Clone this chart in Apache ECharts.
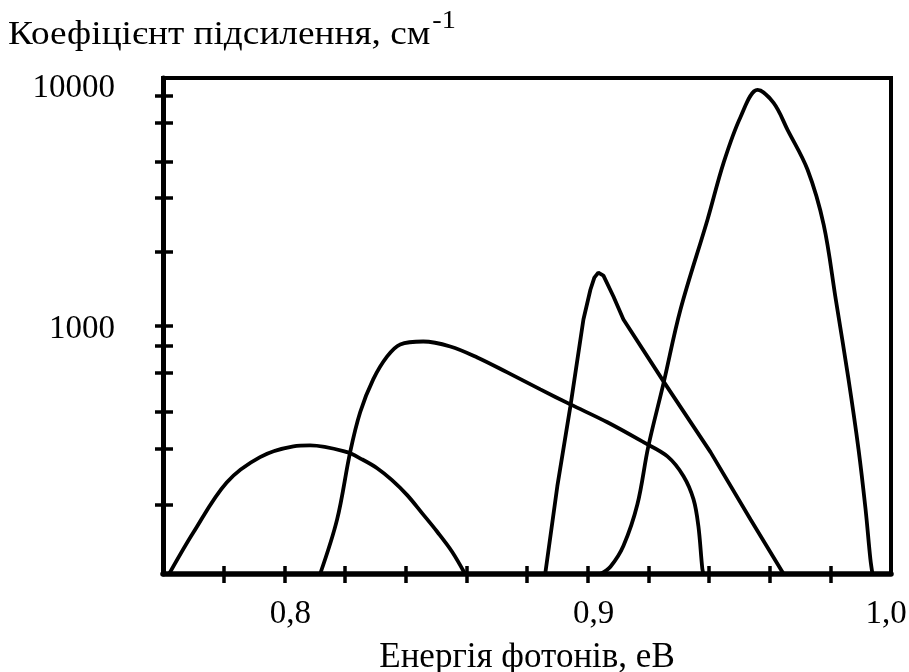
<!DOCTYPE html>
<html>
<head>
<meta charset="utf-8">
<script src="https://cdn.jsdelivr.net/npm/echarts@6/dist/echarts.min.js"></script>
<style>
  html, body { margin: 0; padding: 0; background: #fff; }
  #chart { width: 909px; height: 672px; }
</style>
</head>
<body>
<div id="chart"></div>
<script>
// Gain spectra: photon energy (eV) vs gain coefficient (cm^-1), log scale
const curve1X = [0.762, 0.770, 0.781, 0.792, 0.803, 0.8085, 0.8207, 0.8256, 0.8306, 0.8355, 0.8405, 0.8454, 0.8504, 0.8553, 0.8596];
const curve1Y = [100, 147, 234, 296, 327, 330, 310, 290, 267, 239, 208, 176, 148, 123, 100];

const curve2X = [0.8118, 0.8174, 0.8217, 0.825, 0.8293, 0.8339, 0.8382, 0.8458, 0.8547, 0.8636, 0.8735, 0.8844, 0.8943, 0.9065, 0.9184, 0.9263, 0.9316, 0.9349, 0.9365, 0.9378, 0.9382];
const curve2Y = [100, 166, 310, 449, 609, 754, 843, 866, 827, 747, 650, 555, 483, 409, 340, 298, 248, 200, 156, 105, 100];

const curve3X = [0.886, 0.890, 0.8943, 0.8986, 0.9009, 0.9022, 0.9035, 0.9052, 0.9085, 0.9118, 0.925, 0.9405, 0.9537, 0.9646];
const curve3Y = [100, 226, 474, 1062, 1400, 1567, 1641, 1597, 1315, 1062, 598, 310, 166, 100];

const curve4X = [0.9042, 0.9075, 0.9118, 0.9164, 0.920, 0.925, 0.9306, 0.9395, 0.9448, 0.9504, 0.956, 0.9613, 0.9659, 0.9725, 0.9778, 0.9818, 0.986, 0.9893, 0.9916, 0.9932, 0.9939];
const curve4Y = [100, 107, 130, 191, 327, 587, 1165, 2683, 4549, 6966, 8950, 7930, 6180, 4265, 2561, 1279, 609, 318, 183, 115, 100];

const xTickValues = [0.78, 0.80, 0.82, 0.84, 0.86, 0.88, 0.90, 0.92, 0.94, 0.96, 0.98];
const xLabelValues = [0.8, 0.9, 1.0];
const yTickValues = [190, 320, 450, 650, 830, 1000, 2000, 3300, 4600, 6600, 8500];
const yLabelValues = [1000, 10000];

const yTitle = 'Коефіцієнт підсилення, см';
const yTitleSup = '-1';
const xTitle = 'Енергія фотонів, еВ';

const FONT = '"Liberation Serif", "Times New Roman", serif';
const GRID = { left: 163, right: 18, top: 78, bottom: 98 };
const gridW = 909 - GRID.left - GRID.right;
const gridH = 672 - GRID.top - GRID.bottom;

// title text metrics, used to place the superscript right after it
const TITLE_SIZE = 33;
const TITLE_SCALE = 1.13;
const measureCtx = document.createElement('canvas').getContext('2d');
measureCtx.font = TITLE_SIZE + 'px ' + FONT;
const titleWidth = measureCtx.measureText(yTitle).width * TITLE_SCALE;

function pairs(xs, ys) { return xs.map((x, i) => [x, ys[i]]); }

const chart = echarts.init(document.getElementById('chart'), null, { renderer: 'canvas' });

const tickStyle = { color: '#000', width: 3.5 };

function curve(xs, ys, smooth) {
  return {
    type: 'line',
    data: pairs(xs, ys),
    xAxisIndex: 0,
    yAxisIndex: 0,
    showSymbol: false,
    smooth: smooth,
    lineStyle: { color: '#000', width: 3.8 },
    itemStyle: { color: '#000' },
    z: 3
  };
}

chart.setOption({
  animation: false,
  backgroundColor: '#fff',
  grid: Object.assign({
    show: true, borderColor: '#000', borderWidth: 4, backgroundColor: 'transparent',
    containLabel: false, outerBoundsMode: 'none'
  }, GRID),
  xAxis: [
    {
      type: 'value', min: 0.76, max: 1.0, position: 'bottom',
      axisLine: { show: true, onZero: false, lineStyle: { color: '#000', width: 5.5 } },
      axisTick: { show: true, inside: false, length: 9, customValues: xTickValues, lineStyle: tickStyle },
      axisLabel: {
        customValues: xLabelValues,
        formatter: v => {
          const s = Number(v).toFixed(1).replace('.', ',');
          return Number(v) >= 0.999 ? '{r|' + s + '}' : '{l|' + s + '}';
        },
        margin: 24,
        rich: {
          l: { color: '#000', fontFamily: FONT, fontSize: 33, padding: [0, 0, 0, 12] },
          r: { color: '#000', fontFamily: FONT, fontSize: 33, padding: [0, 10, 0, 0] }
        }
      },
      splitLine: { show: false },
      name: xTitle, nameLocation: 'middle', nameGap: 66,
      nameTextStyle: { color: '#000', fontFamily: FONT, fontSize: 35 }
    },
    {
      // inward half of the crossing ticks on the bottom axis
      type: 'value', min: 0.76, max: 1.0, position: 'top', offset: -gridH,
      axisLine: { show: false },
      axisTick: { show: true, inside: false, length: 8, customValues: xTickValues, lineStyle: tickStyle },
      axisLabel: { show: false },
      splitLine: { show: false }
    }
  ],
  yAxis: [
    {
      type: 'log', logBase: 10, min: 100, max: 10000, position: 'left',
      axisLine: { show: true, onZero: false, lineStyle: { color: '#000', width: 5 } },
      axisTick: { show: true, inside: false, length: 8, customValues: yTickValues, lineStyle: tickStyle },
      axisLabel: {
        customValues: yLabelValues,
        formatter: v => {
          const n = Math.round(v);
          return n >= 10000 ? '{top|' + n + '}' : '{n|' + n + '}';
        },
        margin: 48,
        rich: {
          top: { color: '#000', fontFamily: FONT, fontSize: 33, padding: [20, 0, 0, 0] },
          n: { color: '#000', fontFamily: FONT, fontSize: 33, padding: [6, 0, 0, 0] }
        }
      },
      splitLine: { show: false }
    },
    {
      // inward half of the crossing ticks on the left axis
      type: 'log', logBase: 10, min: 100, max: 10000, position: 'right', offset: -gridW,
      axisLine: { show: false },
      axisTick: { show: true, inside: false, length: 10, customValues: yTickValues, lineStyle: tickStyle },
      axisLabel: { show: false },
      splitLine: { show: false }
    }
  ],
  graphic: [
    {
      type: 'text', x: 8, y: 35, scaleX: TITLE_SCALE,
      style: {
        text: yTitle, fill: '#000',
        font: TITLE_SIZE + 'px ' + FONT,
        verticalAlign: 'middle', align: 'left'
      }
    },
    {
      type: 'text', x: 8 + titleWidth + 2, y: 21, scaleX: TITLE_SCALE,
      style: {
        text: yTitleSup, fill: '#000',
        font: '25px ' + FONT,
        verticalAlign: 'middle', align: 'left'
      }
    }
  ],
  series: [
    curve(curve1X, curve1Y, 0.35),
    curve(curve2X, curve2Y, 0.35),
    curve(curve3X, curve3Y, false),
    curve(curve4X, curve4Y, 0.35)
  ]
});
</script>
</body>
</html>
